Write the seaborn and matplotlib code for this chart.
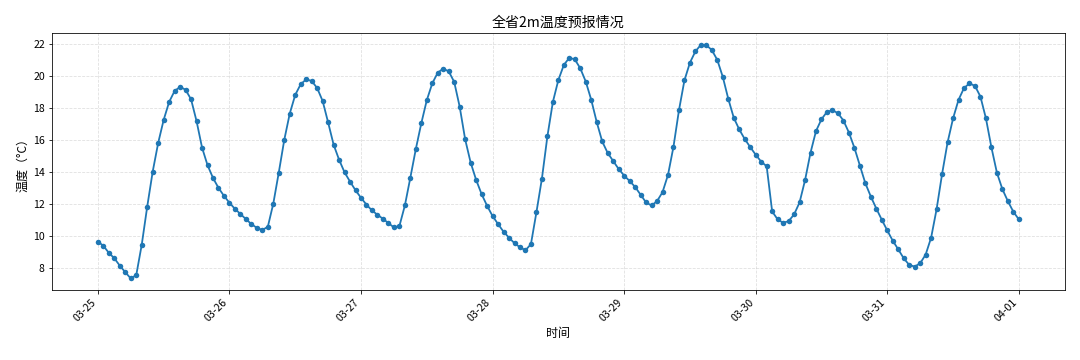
import matplotlib
matplotlib.use("Agg")
import matplotlib.pyplot as plt
import matplotlib.dates as mdates
import numpy as np
import pandas as pd
import seaborn as sns

# hourly 2m temperature forecast, 03-25 00:00 .. 04-01 00:00
day1 = [9.63, 9.36, 8.92, 8.58, 8.12, 7.71, 7.32, 7.53, 9.43, 11.81, 14.00, 15.79,
        17.23, 18.35, 19.04, 19.29, 19.11, 18.51, 17.15, 15.50, 14.40, 13.60, 12.98, 12.48]
day2 = [12.05, 11.67, 11.35, 11.03, 10.72, 10.48, 10.35, 10.55, 12.00, 13.94, 15.98, 17.62,
        18.79, 19.46, 19.76, 19.66, 19.22, 18.41, 17.07, 15.68, 14.74, 13.95, 13.37, 12.83]
day3 = [12.36, 11.93, 11.57, 11.30, 11.05, 10.78, 10.51, 10.59, 11.88, 13.62, 15.41, 17.02,
        18.46, 19.51, 20.18, 20.43, 20.26, 19.60, 18.05, 16.01, 14.56, 13.48, 12.59, 11.86]
day4 = [11.22, 10.72, 10.24, 9.87, 9.52, 9.27, 9.08, 9.47, 11.46, 13.56, 16.20, 18.35,
        19.72, 20.66, 21.11, 21.01, 20.45, 19.62, 18.48, 17.09, 15.88, 15.16, 14.66, 14.16]
day5 = [13.75, 13.41, 13.04, 12.56, 12.07, 11.88, 12.15, 12.71, 13.79, 15.55, 17.83, 19.70,
        20.80, 21.51, 21.92, 21.90, 21.59, 20.97, 19.91, 18.54, 17.36, 16.63, 16.03, 15.53]
day6 = [15.05, 14.62, 14.33, 11.51, 11.01, 10.80, 10.90, 11.32, 12.07, 13.46, 15.18, 16.53,
        17.27, 17.73, 17.83, 17.65, 17.19, 16.44, 15.49, 14.37, 13.27, 12.44, 11.69, 10.99]
day7 = [10.32, 9.68, 9.14, 8.58, 8.17, 8.06, 8.27, 8.81, 9.87, 11.65, 13.85, 15.82,
        17.32, 18.48, 19.22, 19.51, 19.35, 18.68, 17.32, 15.51, 13.93, 12.90, 12.15, 11.49]
last = [11.01]

temps = day1 + day2 + day3 + day4 + day5 + day6 + day7 + last
times = pd.date_range("2025-03-25 00:00", periods=len(temps), freq="h")
df = pd.DataFrame({"时间": times, "温度": temps})

plt.rcParams["font.family"] = ["Noto Sans CJK SC", "DejaVu Sans"]
plt.rcParams["axes.unicode_minus"] = False

fig, ax = plt.subplots(figsize=(15, 5), dpi=72)
sns.lineplot(data=df, x="时间", y="温度", ax=ax, color="#1f77b4", linewidth=1.8,
             marker="o", markersize=5.5, markeredgewidth=0)

ax.set_title("全省2m温度预报情况", fontsize=14)
ax.set_xlabel("时间", fontsize=12)
ax.set_ylabel("温度（°C）", fontsize=12)
ax.tick_params(labelsize=10.5)
ax.grid(True, linestyle="--", alpha=0.4)
ax.xaxis.set_major_locator(mdates.DayLocator())
ax.xaxis.set_major_formatter(mdates.DateFormatter("%m-%d"))
plt.setp(ax.get_xticklabels(), rotation=45, ha="right")

fig.subplots_adjust(left=0.048, right=0.986, top=0.908, bottom=0.194)
fig.savefig("out.png", dpi=72)
